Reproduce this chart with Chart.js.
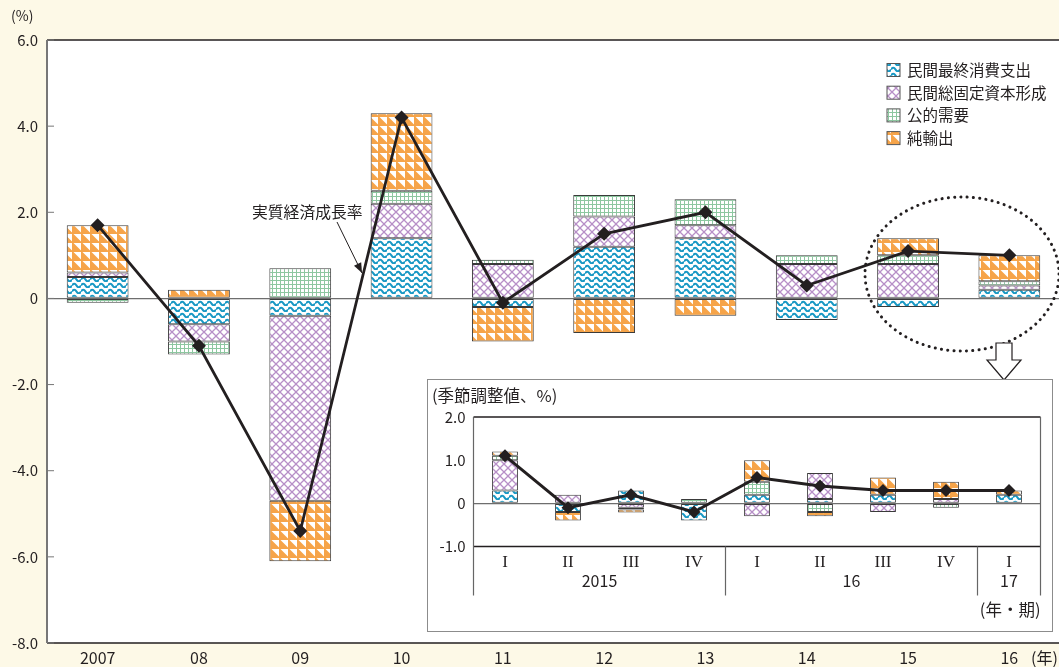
<!DOCTYPE html>
<html>
<head>
<meta charset="utf-8">
<script src="https://cdn.jsdelivr.net/npm/chart.js@4.4.1/dist/chart.umd.min.js"></script>
<style>
html, body { margin: 0; padding: 0; overflow: hidden; background: #fdf9e7; }
#wrap { position: relative; width: 1059px; height: 667px; overflow: hidden; }
#main { position: absolute; left: 0; top: 0; }
#insetBox { position: absolute; left: 427px; top: 379px; width: 624px; height: 251px;
  border: 1.5px solid #8c8c8c; background: #fff; }
#inset { position: absolute; left: 0; top: 0; }
</style>
</head>
<body>
<div id="wrap">
  <canvas id="main" width="1067" height="667"></canvas>
  <div id="insetBox"><canvas id="inset" width="624" height="251"></canvas></div>
</div>
<script>
// Annual contributions (percentage points) and real GDP growth
const years = ['2007', '08', '09', '10', '11', '12', '13', '14', '15', '16'];
const consumption = [0.5, -0.6, -0.4, 1.4, -0.2, 1.2, 1.4, -0.5, -0.2, 0.2];
const investment = [0.1, -0.4, -4.3, 0.8, 0.8, 0.7, 0.3, 0.8, 0.8, 0.1];
const publicDemand = [-0.1, -0.3, 0.7, 0.3, 0.1, 0.5, 0.6, 0.2, 0.2, 0.1];
const netExports = [1.1, 0.2, -1.4, 1.8, -0.8, -0.8, -0.4, null, 0.4, 0.6];
const gdpGrowth = [1.7, -1.1, -5.4, 4.2, -0.1, 1.5, 2.0, 0.3, 1.1, 1.0];
const yTicks = [-8, -6, -4, -2, 0, 2, 4, 6];

// Quarterly (seasonally adjusted) inset
const quarters = ['I', 'II', 'III', 'IV', 'I', 'II', 'III', 'IV', 'I'];
const quarterYears = ['2015', '2015', '2015', '2015', '16', '16', '16', '16', '17'];
const qConsumption = [0.3, -0.2, 0.3, -0.4, 0.2, 0.1, 0.2, null, 0.2];
const qInvestment = [0.7, 0.2, -0.1, null, -0.3, 0.6, -0.2, 0.1, null];
const qPublic = [0.1, null, -0.04, 0.1, 0.3, -0.2, null, -0.1, null];
const qNetExports = [0.1, -0.2, -0.07, null, 0.5, -0.1, 0.4, 0.4, 0.1];
const qGdp = [1.1, -0.1, 0.2, -0.2, 0.6, 0.4, 0.3, 0.3, 0.3];

const seriesNames = ['民間最終消費支出', '民間総固定資本形成', '公的需要', '純輸出'];
const lineName = '実質経済成長率';

const FONT = '"Noto Sans CJK JP", "Noto Sans", sans-serif';
const INK = '#231f20';
Chart.defaults.font.family = FONT;
Chart.defaults.color = INK;

function makePattern(draw, w, h) {
    const c = document.createElement('canvas');
    c.width = w; c.height = h;
    const g = c.getContext('2d');
    g.fillStyle = '#fff';
    g.fillRect(0, 0, w, h);
    draw(g, w, h);
    return g.createPattern(c, 'repeat');
}

const wavePattern = makePattern((g, w, h) => {
    g.strokeStyle = '#1898c4';
    g.lineWidth = 2.2;
    g.beginPath();
    g.moveTo(0, 3.5);
    g.quadraticCurveTo(2.25, 0, 4.5, 3.5);
    g.quadraticCurveTo(6.75, 7, 9, 3.5);
    g.stroke();
}, 9, 6);

const latticePattern = makePattern((g, w, h) => {
    g.strokeStyle = '#b78fc7';
    g.lineWidth = 1.3;
    g.beginPath();
    g.moveTo(0, 0); g.lineTo(w, h);
    g.moveTo(w, 0); g.lineTo(0, h);
    g.stroke();
}, 8, 8);

const gridPattern = makePattern((g, w, h) => {
    g.fillStyle = '#8dc7a0';
    g.fillRect(0, 0, w, 1);
    g.fillRect(0, 0, 1, h);
}, 4, 4);

const trianglePattern = makePattern((g, w, h) => {
    g.fillStyle = '#f6a449';
    g.fillRect(0, 0, w, h);
    g.fillStyle = '#fff';
    g.beginPath();
    g.moveTo(1.5, 0); g.lineTo(w, 0); g.lineTo(w, h - 1.5);
    g.closePath();
    g.fill();
}, 9, 9);

const patterns = [wavePattern, latticePattern, gridPattern, trianglePattern];

function barSets(values) {
    return values.map((v, i) => ({
        type: 'bar',
        label: seriesNames[i],
        data: v,
        backgroundColor: patterns[i],
        borderColor: '#3a3a3a',
        borderWidth: 1,
        borderSkipped: false,
        stack: 'c',
        order: 1
    }));
}

function lineSet(data, radius, width) {
    return {
        type: 'line',
        label: lineName,
        data: data,
        borderColor: INK,
        backgroundColor: INK,
        borderWidth: width,
        pointStyle: 'rectRot',
        pointRadius: radius,
        pointBorderWidth: 0,
        tension: 0,
        stack: 'g',
        order: 0
    };
}

function drawArrow(ctx, x1, y1, x2, y2) {
    ctx.beginPath();
    ctx.moveTo(x1, y1); ctx.lineTo(x2, y2);
    ctx.stroke();
    const ang = Math.atan2(y2 - y1, x2 - x1);
    ctx.beginPath();
    ctx.moveTo(x2, y2);
    ctx.lineTo(x2 - 10 * Math.cos(ang) + 4 * Math.sin(ang), y2 - 10 * Math.sin(ang) - 4 * Math.cos(ang));
    ctx.lineTo(x2 - 10 * Math.cos(ang) - 4 * Math.sin(ang), y2 - 10 * Math.sin(ang) + 4 * Math.cos(ang));
    ctx.closePath();
    ctx.fill();
}

const whiteArea = {
    id: 'whiteArea',
    beforeDraw(chart) {
        const { ctx, chartArea: a } = chart;
        ctx.save();
        ctx.fillStyle = '#fff';
        ctx.fillRect(a.left, a.top, a.right - a.left, a.bottom - a.top);
        ctx.restore();
    }
};

const mainDecor = {
    id: 'mainDecor',
    afterDraw(chart) {
        const { ctx, chartArea: a, scales } = chart;
        ctx.save();
        // frame
        ctx.strokeStyle = INK;
        ctx.lineWidth = 1.5;
        ctx.beginPath();
        ctx.moveTo(a.left, a.top); ctx.lineTo(a.right, a.top);
        ctx.moveTo(a.left, a.bottom); ctx.lineTo(a.right, a.bottom);
        ctx.stroke();
        ctx.strokeStyle = '#777';
        ctx.lineWidth = 2;
        ctx.beginPath();
        ctx.moveTo(a.left, a.top); ctx.lineTo(a.left, a.bottom);
        ctx.stroke();
        // inner ticks
        ctx.lineWidth = 1;
        yTicks.forEach(v => {
            const y = scales.y.getPixelForValue(v);
            ctx.beginPath();
            ctx.moveTo(a.left, y); ctx.lineTo(a.left + 7, y);
            ctx.stroke();
        });
        // unit labels
        ctx.fillStyle = INK;
        ctx.font = '14px ' + FONT;
        ctx.textBaseline = 'middle';
        ctx.textAlign = 'left';
        ctx.fillText('(%)', 11, 16);
        ctx.font = '16px ' + FONT;
        ctx.fillText('(年)', 1031, 658);

        // legend
        ctx.font = '15.5px ' + FONT;
        chart.data.datasets.filter(d => d.type === 'bar').forEach((d, i) => {
            const y = 70 + i * 22.7;
            ctx.fillStyle = d.backgroundColor;
            ctx.fillRect(887, y - 6.5, 13, 13);
            ctx.strokeStyle = '#555';
            ctx.lineWidth = 1;
            ctx.strokeRect(887, y - 6.5, 13, 13);
            ctx.fillStyle = INK;
            ctx.fillText(d.label, 907, y);
        });

        // line label with arrow
        ctx.font = '15.8px ' + FONT;
        ctx.textAlign = 'left';
        ctx.fillText(lineName, 252, 212);
        ctx.strokeStyle = INK;
        ctx.lineWidth = 1;
        drawArrow(ctx, 337, 222, 362, 273);

        // dotted ellipse round the last two years
        ctx.strokeStyle = INK;
        ctx.lineWidth = 3;
        ctx.lineCap = 'round';
        ctx.setLineDash([0.1, 6.2]);
        ctx.beginPath();
        ctx.ellipse(962, 274, 97, 77, 0, 0, Math.PI * 2);
        ctx.stroke();
        ctx.setLineDash([]);

        // hollow down arrow
        ctx.lineWidth = 1.2;
        ctx.lineCap = 'butt';
        ctx.fillStyle = '#fff';
        ctx.beginPath();
        ctx.moveTo(996, 343); ctx.lineTo(1012, 343); ctx.lineTo(1012, 360);
        ctx.lineTo(1021, 360); ctx.lineTo(1004, 380); ctx.lineTo(987, 360);
        ctx.lineTo(996, 360);
        ctx.closePath();
        ctx.fill();
        ctx.stroke();
        ctx.restore();
    }
};

const insetDecor = {
    id: 'insetDecor',
    afterDraw(chart) {
        const { ctx, chartArea: a, scales } = chart;
        const x = scales.x;
        ctx.save();
        ctx.strokeStyle = INK;
        ctx.lineWidth = 1.3;
        ctx.beginPath();
        ctx.moveTo(a.left, a.top); ctx.lineTo(a.right, a.top);
        ctx.moveTo(a.left, a.bottom); ctx.lineTo(a.right, a.bottom);
        ctx.stroke();
        ctx.strokeStyle = '#666';
        ctx.lineWidth = 1.2;
        const sepBottom = a.bottom + 49;
        ctx.beginPath();
        ctx.moveTo(a.left, a.top); ctx.lineTo(a.left, sepBottom);
        ctx.moveTo(a.right, a.top); ctx.lineTo(a.right, sepBottom);
        ctx.stroke();

        // year groups under the quarters
        ctx.fillStyle = INK;
        ctx.font = '16px ' + FONT;
        ctx.textAlign = 'center';
        ctx.textBaseline = 'middle';
        let start = 0;
        for (let i = 1; i <= quarterYears.length; i++) {
            if (i === quarterYears.length || quarterYears[i] !== quarterYears[start]) {
                const cx = (x.getPixelForValue(start) + x.getPixelForValue(i - 1)) / 2;
                ctx.fillText(quarterYears[start], cx, a.bottom + 34);
                if (i < quarterYears.length) {
                    const sx = (x.getPixelForValue(i - 1) + x.getPixelForValue(i)) / 2;
                    ctx.beginPath();
                    ctx.moveTo(sx, a.bottom); ctx.lineTo(sx, sepBottom);
                    ctx.stroke();
                }
                start = i;
            }
        }
        ctx.font = '16.5px ' + FONT;
        ctx.textAlign = 'left';
        ctx.fillText('(季節調整値、%)', 4, 16);
        ctx.textAlign = 'right';
        ctx.fillText('(年・期)', a.right, 230);
        ctx.restore();
    }
};

function zeroGrid(c) {
    return c.tick && c.tick.value === 0 ? '#6e6e6e' : 'rgba(0,0,0,0)';
}

new Chart(document.getElementById('main'), {
    data: {
        labels: years,
        datasets: [lineSet(gdpGrowth, 7, 2.8)].concat(
            barSets([consumption, investment, publicDemand, netExports]))
    },
    options: {
        responsive: false,
        animation: false,
        layout: { padding: { top: 40, left: 0, right: 0, bottom: 0 } },
        datasets: { bar: { barPercentage: 0.61, categoryPercentage: 1 } },
        plugins: { legend: { display: false }, tooltip: { enabled: false } },
        scales: {
            x: {
                stacked: true,
                grid: { display: false, drawTicks: false },
                border: { display: false },
                ticks: { font: { size: 16 }, padding: 5, maxRotation: 0 },
                afterFit: s => { s.height = 24; }
            },
            y: {
                stacked: true,
                min: -8, max: 6,
                afterBuildTicks: s => { s.ticks = yTicks.map(v => ({ value: v })); },
                grid: { color: zeroGrid, drawTicks: false, lineWidth: 1.2 },
                border: { display: false },
                ticks: {
                    font: { size: 15 }, padding: 9,
                    callback: v => v === 0 ? '0' : v.toFixed(1)
                },
                afterFit: s => { s.width = 47; }
            }
        }
    },
    plugins: [whiteArea, mainDecor]
});

new Chart(document.getElementById('inset'), {
    data: {
        labels: quarters,
        datasets: [lineSet(qGdp, 6.5, 3)].concat(
            barSets([qConsumption, qInvestment, qPublic, qNetExports]))
    },
    options: {
        responsive: false,
        animation: false,
        layout: { padding: { top: 37, left: 0, right: 11.5, bottom: 0 } },
        datasets: { bar: { barPercentage: 0.41, categoryPercentage: 1 } },
        plugins: { legend: { display: false }, tooltip: { enabled: false } },
        scales: {
            x: {
                stacked: true,
                grid: { display: false, drawTicks: false },
                border: { display: false },
                ticks: { font: { size: 17, family: '"Liberation Serif", serif' }, padding: 6, maxRotation: 0 },
                afterFit: s => { s.height = 84.5; }
            },
            y: {
                stacked: true,
                min: -1, max: 2,
                ticks: {
                    stepSize: 1, font: { size: 15 }, padding: 8,
                    callback: v => v === 0 ? '0' : v.toFixed(1)
                },
                grid: { color: zeroGrid, drawTicks: false, lineWidth: 1.2 },
                border: { display: false },
                afterFit: s => { s.width = 45.5; }
            }
        }
    },
    plugins: [insetDecor]
});
</script>
</body>
</html>
